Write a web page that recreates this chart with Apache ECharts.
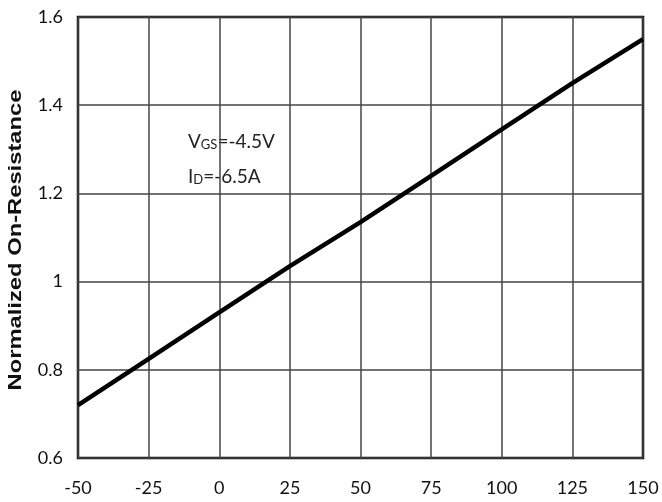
<!DOCTYPE html>
<html><head><meta charset="utf-8">
<script src="https://cdn.jsdelivr.net/npm/echarts@6/dist/echarts.min.js"></script>
<style>html,body{margin:0;padding:0;background:#fff}#c{width:662px;height:502px}</style>
</head><body><div id="c"></div>
<script>
const temps = [-50, -25, 0, 25, 50, 75, 100, 125, 150];
const rdsNorm = [0.72, 0.825, 0.93, 1.035, 1.135, 1.24, 1.345, 1.45, 1.55];
const yAxisTitle = 'Normalized On-Resistance';
const noteVgs = ['V', 'GS', '=-4.5V'];
const noteId = ['I', 'D', '=-6.5A'];

const chart = echarts.init(document.getElementById('c'));
const richStyle = {
  a: { fontFamily: 'Lato', fontSize: 19, fill: '#222' },
  b: { fontFamily: 'Lato', fontSize: 13, fill: '#222', padding: [6, 0, 0, 0] }
};
chart.setOption({
  backgroundColor: '#fff',
  animation: false,
  grid: { left: 78, right: 19, top: 17, bottom: 44, show: true, borderColor: '#000', borderWidth: 2.5, backgroundColor: 'transparent' },
  xAxis: {
    type: 'value', min: -50, max: 150, interval: 25,
    axisLine: { show: false }, axisTick: { show: false },
    splitLine: { show: true, lineStyle: { color: '#444', width: 1.5 } },
    axisLabel: { color: '#111', fontFamily: 'Lato', fontSize: 18, margin: 21 }
  },
  yAxis: {
    type: 'value', min: 0.6, max: 1.6, interval: 0.2,
    axisLine: { show: false }, axisTick: { show: false },
    splitLine: { show: true, lineStyle: { color: '#444', width: 1.5 } },
    axisLabel: { color: '#111', fontFamily: 'Lato', fontSize: 18, margin: 15,
      formatter: v => String(Math.round(v * 10) / 10) }
  },
  series: [{
    type: 'line', data: temps.map((t, i) => [t, rdsNorm[i]]),
    showSymbol: false, lineStyle: { color: '#000', width: 4.5 }, silent: true
  }],
  graphic: [
    { type: 'text', x: 16, y: 240, rotation: Math.PI / 2, scaleX: 1.25, style: {
      text: yAxisTitle, fontFamily: 'Liberation Sans', fontWeight: 'bold', fontSize: 19,
      fill: '#111', align: 'center', verticalAlign: 'middle' } },
    { type: 'text', left: 188, top: 132, style: {
      text: '{a|' + noteVgs[0] + '}{b|' + noteVgs[1] + '}{a|' + noteVgs[2] + '}', rich: richStyle } },
    { type: 'text', left: 188, top: 167, style: {
      text: '{a|' + noteId[0] + '}{b|' + noteId[1] + '}{a|' + noteId[2] + '}', rich: richStyle } }
  ]
});
</script></body></html>
